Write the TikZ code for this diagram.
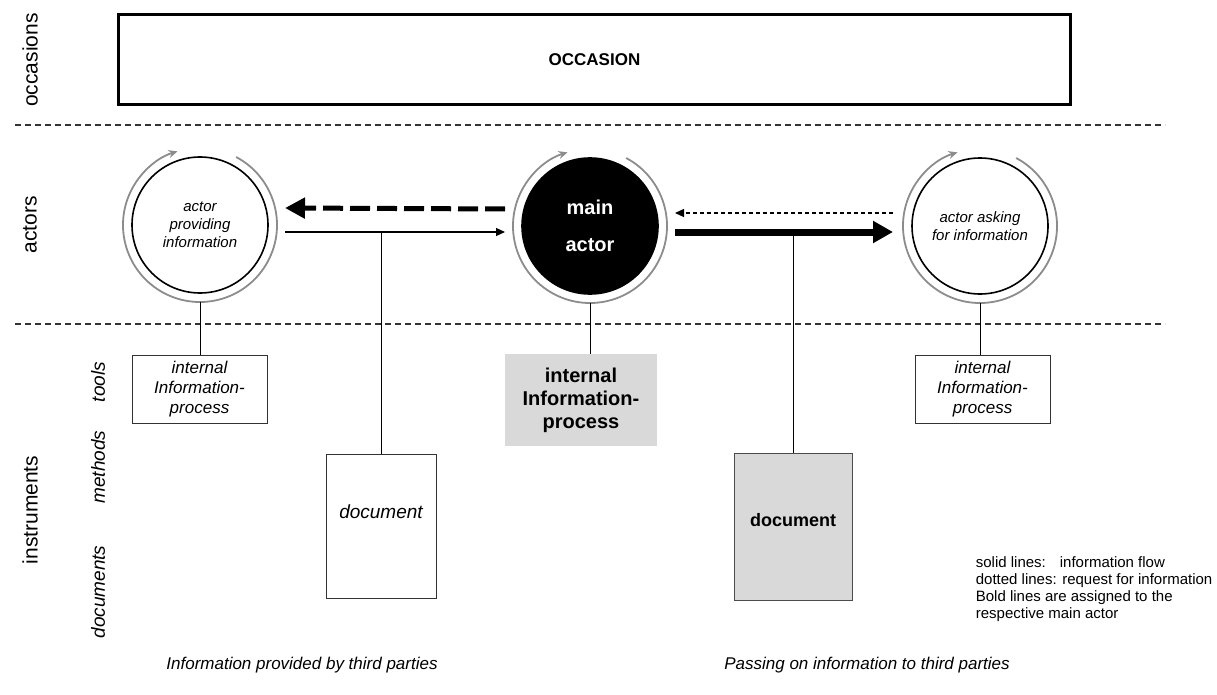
\documentclass[tikz,border=0pt]{standalone}
\usepackage{fontspec}
\setmainfont{Liberation Sans}
\usetikzlibrary{arrows.meta}

\begin{document}
\begin{tikzpicture}[x=1pt,y=-1pt,line width=1pt,
 actor/.style={circle,draw,line width=1.6pt,minimum size=136pt,inner sep=0pt,outer sep=9pt,align=center,font=\itshape\fontsize{15}{18}\selectfont},
 tool/.style={draw=black!80,line width=0.8pt,minimum width=135pt,minimum height=68pt,align=center,font=\itshape\fontsize{17}{20}\selectfont},
 ring/.style={draw=black!45,line width=1.8pt,-{Stealth[length=9pt,width=8pt]}},
 sep/.style={black!80,line width=1.1pt,dash pattern=on 6pt off 4pt},
 side/.style={rotate=90,font=\fontsize{21}{24}\selectfont}]
 \useasboundingbox (0,0) rectangle (1217,695);
 % levels
 \draw[sep] (15,125)--(1165,125);
 \draw[sep] (15,324)--(1165,324);
 \node[side] (occs) at (30,60) {occasions};
 \node[side] (acts) at (30,225) {actors};
 \node[side] (instr) at (30,510) {instruments};
 \node[side,font=\itshape\fontsize{19}{22}\selectfont] (tools) at (98,382) {tools};
 \node[side,font=\itshape\fontsize{19}{22}\selectfont] (meths) at (98,467) {methods};
 \node[side,font=\itshape\fontsize{19}{22}\selectfont] (docs) at (98,592) {documents};
 \node[draw,line width=3pt,minimum width=952pt,minimum height=90pt,font=\bfseries\fontsize{17}{20}\selectfont] (occ) at (594.5,59.5) {OCCASION};
 % actors
 \node[actor] (prov) at (200,225) {actor\\providing\\information};
 \node[actor,fill=black,text=white,font=\bfseries\fontsize{20}{37}\selectfont] (main) at (590,226) {main\\actor};
 \node[actor] (ask) at (980,226) {actor asking\\for information};
 \foreach \a in {prov,main,ask}
  \draw[ring] ([shift={(62:77pt)}]\a.center) arc (62:-253:77pt);
 % arrows between the actors
 \draw[line width=5pt,dash pattern=on 20pt off 7pt,-{Triangle[length=20pt,width=20pt]}] ([xshift=-8pt,yshift=17pt]main.west) -- ([xshift=8pt,yshift=17pt]prov.east);
 \draw[line width=1.3pt,-{Triangle[length=9pt,width=8pt]}] ([xshift=8pt,yshift=-7pt]prov.east) coordinate (flowL) -- ([xshift=-8pt,yshift=-6pt]main.west);
 \draw[line width=1.3pt,dash pattern=on 4pt off 3pt,-{Triangle[length=9pt,width=8pt]}] ([xshift=-10pt,yshift=13pt]ask.west) -- ([xshift=8pt,yshift=13pt]main.east);
 \draw[line width=7pt,-{Triangle[length=20pt,width=21pt]}] ([xshift=8pt,yshift=-6pt]main.east) coordinate (flowR) -- ([xshift=-10pt,yshift=-6pt]ask.west);
 % instruments
 \node[tool] (toolL) at (199.5,389) {internal\\Information-\\process};
 \node[tool] (toolR) at (982.5,389) {internal\\Information-\\process};
 \node[fill=black!15,minimum width=152pt,minimum height=92pt,align=center,font=\bfseries\fontsize{20}{23}\selectfont] (toolM) at (581,400) {internal\\Information-\\process};
 \node[draw=black!80,line width=0.8pt,minimum width=110pt,minimum height=144pt] (doc1) at (381,526) {};
 \node[font=\itshape\fontsize{19}{22}\selectfont] (doc1t) at (381,512) {document};
 \node[draw=black!70,fill=black!15,line width=1pt,minimum width=118pt,minimum height=147pt] (doc2) at (793,526.5) {};
 \node[font=\bfseries\fontsize{18}{21}\selectfont] (doc2t) at (793,520) {document};
 \draw (prov.south) -- (prov.south |- toolL.north);
 \draw (ask.south) -- (ask.south |- toolR.north);
 \draw (main.south) -- (main.south |- toolM.north);
 \draw (doc1.north) -- (doc1.north |- flowL);
 \draw (doc2.north) -- (doc2.north |- flowR);
 % legend and captions
 \node[anchor=north west,align=left,font=\fontsize{15}{17}\selectfont] (legend) at (972,553) {solid lines:\hspace{14pt}information flow\\dotted lines: request for information\\Bold lines are assigned to the\\respective main actor};
 \node[font=\itshape\fontsize{17}{20}\selectfont] (capL) at (302,665) {Information provided by third parties};
 \node[font=\itshape\fontsize{17}{20}\selectfont] (capR) at (867,665) {Passing on information to third parties};
\end{tikzpicture}
\end{document}
